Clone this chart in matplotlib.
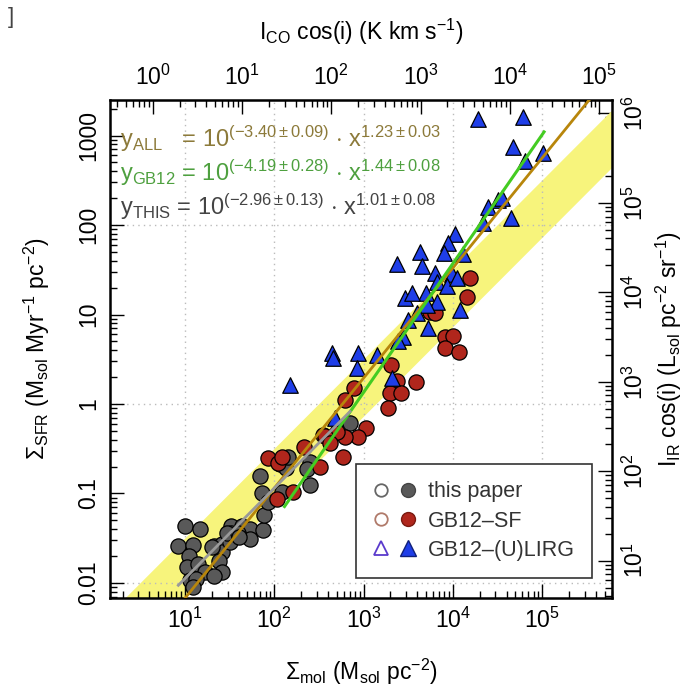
import numpy as np
import matplotlib
matplotlib.use('Agg')
import matplotlib.pyplot as plt
from matplotlib.lines import Line2D
from matplotlib.legend_handler import HandlerTuple
from matplotlib import ticker

plt.rcParams['font.family'] = ['Liberation Sans', 'DejaVu Sans']
plt.rcParams['mathtext.fontset'] = 'custom'
plt.rcParams['mathtext.rm'] = 'Liberation Sans'
plt.rcParams['mathtext.it'] = 'Liberation Sans:italic'
plt.rcParams['mathtext.sf'] = 'Liberation Sans'

# this paper (log10 Sigma_mol, log10 Sigma_SFR)
this_logx = [1.000, 1.163, 0.925, 1.084, 1.047, 1.019, 1.140, 1.224, 1.056, 1.121,
             1.325, 1.414, 1.411, 1.377, 1.417, 1.325, 1.510, 1.519, 1.504, 1.635,
             1.728, 1.728, 1.877, 1.885, 1.859, 1.929, 1.845, 2.083, 2.064, 2.129,
             2.157, 2.400, 2.363, 2.400, 2.848, 1.467, 1.594, 1.299, 1.090, 1.605]
this_logy = [-1.358, -1.400, -1.587, -1.581, -1.702, -1.821, -1.793, -1.879, -1.966, -1.953,
             -1.587, -1.564, -1.650, -1.752, -1.879, -1.926, -1.366, -1.445, -1.539, -1.358,
             -1.393, -1.505, -1.408, -1.235, -0.998, -1.092, -0.808, -0.985, -0.673, -0.718,
             -0.596, -0.645, -0.730, -0.905, -0.216, -1.445, -1.441, -1.594, -2.041, -1.486]

# GB12 normal star forming galaxies
sf_logx = [1.933, 2.045, 2.333, 2.549, 2.512, 2.027, 4.192, 4.155, 3.744, 3.800,
           3.912, 4.005, 3.912, 4.072, 3.303, 3.377, 3.583, 3.296, 3.416, 3.270,
           2.896, 2.792, 3.024, 2.941, 2.792, 2.706, 2.568, 2.624, 2.766, 2.083, 2.213]
sf_logy = [-0.607, -0.663, -0.477, -0.346, -0.701, -1.065, 1.404, 1.199, 1.031, 1.020,
           0.745, 0.763, 0.622, 0.584, 0.436, 0.260, 0.249, 0.126, 0.120, -0.048,
           0.175, 0.045, -0.272, -0.365, -0.365, -0.309, -0.358, -0.439, -0.589, -0.589, -0.980]

# GB12 (U)LIRGs
lirg_logx = [4.284, 4.788, 4.676, 4.807, 5.012, 4.396, 4.508, 4.546, 4.340, 4.647,
             4.024, 3.948, 3.900, 4.116, 3.632, 3.651, 3.377, 3.800, 3.987, 3.819,
             3.931, 4.043, 3.699, 3.464, 3.539, 3.819, 3.707, 3.601, 4.080, 3.501,
             3.725, 3.445, 3.389, 3.153, 2.941, 2.643, 2.661, 2.929, 2.176, 3.315, 2.680]
lirg_logy = [3.181, 3.210, 2.868, 2.715, 2.808, 2.204, 2.279, 2.298, 2.019, 2.075,
             1.896, 1.796, 1.691, 1.676, 1.702, 1.542, 1.564, 1.460, 1.453, 1.366,
             1.318, 1.404, 1.237, 1.181, 1.237, 1.143, 1.106, 1.020, 1.050, 0.942,
             0.851, 0.752, 0.706, 0.547, 0.566, 0.573, 0.511, 0.399, 0.212, 0.287, -0.160]

# fits: (log10 normalisation, slope)
fit_all = (-3.40, 1.23)
fit_gb12 = (-4.19, 1.44)
fit_this = (-2.96, 1.01)
gb12_range = [130, 1.05e5]
tau_band = [320, 1400]   # depletion time band, Myr

alpha_co = 4.35          # Sigma_mol per I_CO
sfr_per_ir = 10**-2.75   # Sigma_SFR per I_IR

xlim = [10**0.16, 10**5.782]
ylim = [10**-2.168, 10**3.397]

# tick values on each side
bottom_ticks = [1e1, 1e2, 1e3, 1e4, 1e5]
left_ticks = [0.01, 0.1, 1, 10, 100, 1000]
top_ticks = [1e0, 1e1, 1e2, 1e3, 1e4, 1e5]
right_ticks = [1e1, 1e2, 1e3, 1e4, 1e5, 1e6]
grid_x = [1e1, 1e2, 1e3, 1e4, 1e5]
grid_y = [0.01, 1, 100]

fig = plt.figure(figsize=(6.9, 6.89), dpi=100)
ax = fig.add_axes([110/690, 1-598/689, 502/690, 498/689])
ax.set_xscale('log')
ax.set_yscale('log')
ax.set_xlim(xlim)
ax.set_ylim(ylim)

# band
xb = np.logspace(-1, 7, 50)
ax.fill_between(xb, xb/tau_band[1], xb/tau_band[0], color='#f7f47c', lw=0, zorder=0.5)

# grid
for xv in grid_x:
    ax.axvline(xv, color='#bbbbbb', ls=(0, (1, 3)), lw=1, zorder=1)
for yv in grid_y:
    ax.axhline(yv, color='#bbbbbb', ls=(0, (1, 3)), lw=1, zorder=1)

ax.scatter(10**np.array(this_logx), 10**np.array(this_logy), s=120, c='#595959',
           edgecolors='black', linewidths=0.9, zorder=3)
ax.scatter(10**np.array(sf_logx), 10**np.array(sf_logy), s=120, c='#b0261c',
           edgecolors='black', linewidths=0.9, zorder=3)
ax.scatter(10**np.array(lirg_logx), 10**np.array(lirg_logy), s=125, marker='^', c='#1f3ee8',
           edgecolors='black', linewidths=0.9, zorder=3)

# fit lines
xa = np.logspace(-1, 7, 100)
ax.plot(xa, 10**fit_all[0] * xa**fit_all[1], color='#b8860b', lw=2.0, zorder=4)
xg = np.logspace(np.log10(gb12_range[0]), np.log10(gb12_range[1]), 50)
ax.plot(xg, 10**fit_gb12[0] * xg**fit_gb12[1], color='#44cc22', lw=2.2, zorder=4)
xt = np.logspace(min(this_logx), max(this_logx), 50)
ax.plot(xt, 10**fit_this[0] * xt**fit_this[1], color='#999999', lw=2.0, zorder=4)

# equations
eq_kw = dict(transform=ax.transAxes, fontsize=17, va='center', ha='left', zorder=5)
ax.text(0.02, 0.922, r'$\mathrm{y_{ALL}}$   = 10$^{(-3.40\pm0.09)}$ $\cdot$ x$^{1.23\pm0.03}$',
        color='#8c7a3a', **eq_kw)
ax.text(0.02, 0.853, r'$\mathrm{y_{GB12}}$ = 10$^{(-4.19\pm0.28)}$ $\cdot$ x$^{1.44\pm0.08}$',
        color='#4ea03f', **eq_kw)
ax.text(0.02, 0.785, r'$\mathrm{y_{THIS}}$ = 10$^{(-2.96\pm0.13)}$ $\cdot$ x$^{1.01\pm0.08}$',
        color='#444444', **eq_kw)

def pow10(v, pos):
    return r'$10^{%d}$' % int(round(np.log10(v)))

def plain(v, pos):
    return '%g' % v

minor_loc = lambda: ticker.LogLocator(base=10, subs=np.arange(2, 10), numticks=20)

ax.xaxis.set_major_locator(ticker.FixedLocator(bottom_ticks))
ax.xaxis.set_major_formatter(ticker.FuncFormatter(pow10))
ax.xaxis.set_minor_locator(minor_loc())
ax.xaxis.set_minor_formatter(ticker.NullFormatter())
ax.yaxis.set_major_locator(ticker.FixedLocator(left_ticks))
ax.yaxis.set_major_formatter(ticker.FuncFormatter(plain))
ax.yaxis.set_minor_locator(minor_loc())
ax.yaxis.set_minor_formatter(ticker.NullFormatter())
ax.tick_params(which='both', direction='in', top=False, right=False, width=1, labelsize=16.5)
ax.tick_params(which='major', length=10)
ax.tick_params(which='minor', length=5)
ax.tick_params(axis='x', pad=7)
ax.tick_params(axis='y', pad=7)
for lab in ax.get_yticklabels():
    lab.set_rotation(90)
    lab.set_va('center')

for sp in ax.spines.values():
    sp.set_linewidth(1.8)

ax.set_xlabel(r'$\Sigma_{\mathrm{mol}}$ (M$_{\mathrm{sol}}$ pc$^{-2}$)', fontsize=16.5, labelpad=17)
ax.set_ylabel(r'$\Sigma_{\mathrm{SFR}}$ (M$_{\mathrm{sol}}$ Myr$^{-1}$ pc$^{-2}$)', fontsize=16.5)
ax.yaxis.set_label_coords(-0.115, 0.5)

# secondary axes
secx = ax.secondary_xaxis('top', functions=(lambda x: x / alpha_co, lambda x: x * alpha_co))
secx.set_xscale('log')
secx.xaxis.set_major_locator(ticker.FixedLocator(top_ticks))
secx.xaxis.set_major_formatter(ticker.FuncFormatter(pow10))
secx.xaxis.set_minor_locator(minor_loc())
secx.xaxis.set_minor_formatter(ticker.NullFormatter())
secx.tick_params(which='both', direction='in', width=1, labelsize=16.5, pad=7)
secx.tick_params(which='major', length=10)
secx.tick_params(which='minor', length=5)
secx.set_xlabel(r'I$_{\mathrm{CO}}$ cos(i) (K km s$^{-1}$)', fontsize=16.5, labelpad=18)

secy = ax.secondary_yaxis('right', functions=(lambda y: y / sfr_per_ir, lambda y: y * sfr_per_ir))
secy.set_yscale('log')
secy.yaxis.set_major_locator(ticker.FixedLocator(right_ticks))
secy.yaxis.set_major_formatter(ticker.FuncFormatter(pow10))
secy.yaxis.set_minor_locator(minor_loc())
secy.yaxis.set_minor_formatter(ticker.NullFormatter())
secy.tick_params(which='both', direction='in', width=1, labelsize=16.5, pad=8)
secy.tick_params(which='major', length=10)
secy.tick_params(which='minor', length=5)
for lab in secy.get_yticklabels():
    lab.set_rotation(90)
    lab.set_va('center')
secy.set_ylabel(r'I$_{\mathrm{IR}}$ cos(i) (L$_{\mathrm{sol}}$ pc$^{-2}$ sr$^{-1}$)', fontsize=16.5, labelpad=4)

# legend
h_this = (Line2D([], [], marker='o', ls='', mfc='none', mec='#666666', ms=9, mew=1.3),
          Line2D([], [], marker='o', ls='', mfc='#595959', mec='#444444', ms=10))
h_sf = (Line2D([], [], marker='o', ls='', mfc='none', mec='#b07a6a', ms=9, mew=1.3),
        Line2D([], [], marker='o', ls='', mfc='#b0261c', mec='#7a1a10', ms=10))
h_lirg = (Line2D([], [], marker='^', ls='', mfc='none', mec='#5a3acc', ms=10, mew=1.3),
          Line2D([], [], marker='^', ls='', mfc='#1f3ee8', mec='#10207a', ms=11))
leg = ax.legend([h_this, h_sf, h_lirg], ['this paper', 'GB12\u2013SF', 'GB12\u2013(U)LIRG'],
                handler_map={tuple: HandlerTuple(ndivide=None, pad=0.5)},
                loc='lower right', bbox_to_anchor=(0.96, 0.04), borderaxespad=0,
                fontsize=15.5, frameon=True, fancybox=False, edgecolor='#333333', framealpha=1,
                labelspacing=0.38, handlelength=2.0, handletextpad=0.55, borderpad=0.8,
                labelcolor='#333333')
leg.get_frame().set_linewidth(1.2)
leg.set_zorder(6)

fig.text(0.012, 1 - 17/689, ']', fontsize=16, color='#444444', va='center')

fig.savefig('out.png', dpi=100)
